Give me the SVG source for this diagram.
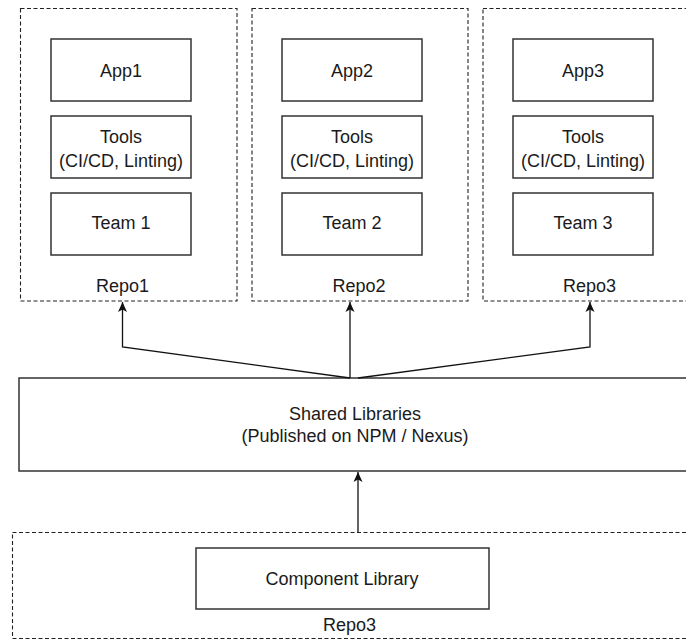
<svg xmlns="http://www.w3.org/2000/svg" width="686" height="641" viewBox="0 0 686 641">
<defs>
<style>
.bg{fill:#ffffff}
.repo{fill:none;stroke:#222;stroke-width:1.1;stroke-dasharray:4 2.5}
.box{fill:#ffffff;stroke:#333;stroke-width:1.5}
.lbl{font-family:"Liberation Sans",Arial,Helvetica,sans-serif;font-size:18px;fill:#1a1a1a;text-anchor:middle}
.edge{fill:none;stroke:#111;stroke-width:1.3}
</style>
<marker id="arr" markerUnits="userSpaceOnUse" markerWidth="12" markerHeight="12" viewBox="0 0 12 12" refX="11" refY="6" orient="auto">
<path d="M1,1.5 L11,6 L1,10.5 L3.5,6 Z" fill="#111"/>
</marker>
</defs>
<rect class="bg" x="0" y="0" width="686" height="641"/>

<g id="repo1">
<rect class="repo" x="20.5" y="8.5" width="216.5" height="292.5"/>
<text class="lbl" x="122.5" y="292">Repo1</text>
</g>
<g id="app1">
<rect class="box" x="51" y="39" width="140" height="62"/>
<text class="lbl" x="121" y="77">App1</text>
</g>
<g id="tools1">
<rect class="box" x="51" y="116" width="140" height="62"/>
<text class="lbl" x="121" y="143">Tools</text>
<text class="lbl" x="121" y="167">(CI/CD, Linting)</text>
</g>
<g id="team1">
<rect class="box" x="51" y="193" width="140" height="62"/>
<text class="lbl" x="121" y="229">Team 1</text>
</g>

<g id="repo2">
<rect class="repo" x="252" y="8.5" width="216" height="292.5"/>
<text class="lbl" x="359" y="292">Repo2</text>
</g>
<g id="app2">
<rect class="box" x="282" y="39" width="140" height="62"/>
<text class="lbl" x="352" y="77">App2</text>
</g>
<g id="tools2">
<rect class="box" x="282" y="116" width="140" height="62"/>
<text class="lbl" x="352" y="143">Tools</text>
<text class="lbl" x="352" y="167">(CI/CD, Linting)</text>
</g>
<g id="team2">
<rect class="box" x="282" y="193" width="140" height="62"/>
<text class="lbl" x="352" y="229">Team 2</text>
</g>

<g id="repo3">
<rect class="repo" x="483" y="8.5" width="217" height="292.5"/>
<text class="lbl" x="589.5" y="292">Repo3</text>
</g>
<g id="app3">
<rect class="box" x="513" y="39" width="140" height="62"/>
<text class="lbl" x="583" y="77">App3</text>
</g>
<g id="tools3">
<rect class="box" x="513" y="116" width="140" height="62"/>
<text class="lbl" x="583" y="143">Tools</text>
<text class="lbl" x="583" y="167">(CI/CD, Linting)</text>
</g>
<g id="team3">
<rect class="box" x="513" y="193" width="140" height="62"/>
<text class="lbl" x="583" y="229">Team 3</text>
</g>

<g id="shared">
<rect class="box" x="19" y="378" width="672" height="93"/>
<text class="lbl" x="355" y="419.5">Shared Libraries</text>
<text class="lbl" x="355" y="442">(Published on NPM / Nexus)</text>
</g>

<g id="repo3-bottom">
<rect class="repo" x="12.5" y="532.5" width="690" height="106"/>
<text class="lbl" x="349.5" y="631">Repo3</text>
</g>
<g id="component">
<rect class="box" x="196" y="548" width="293" height="61"/>
<text class="lbl" x="342" y="584.5">Component Library</text>
</g>

<g id="connectors">
<path class="edge" d="M350,378 L122.5,347 L122.5,302" marker-end="url(#arr)"/>
<path class="edge" d="M350,378 L350,302" marker-end="url(#arr)"/>
<path class="edge" d="M358,378 L590,347 L590,302" marker-end="url(#arr)"/>
<path class="edge" d="M358,532 L358,472" marker-end="url(#arr)"/>
</g>
</svg>
